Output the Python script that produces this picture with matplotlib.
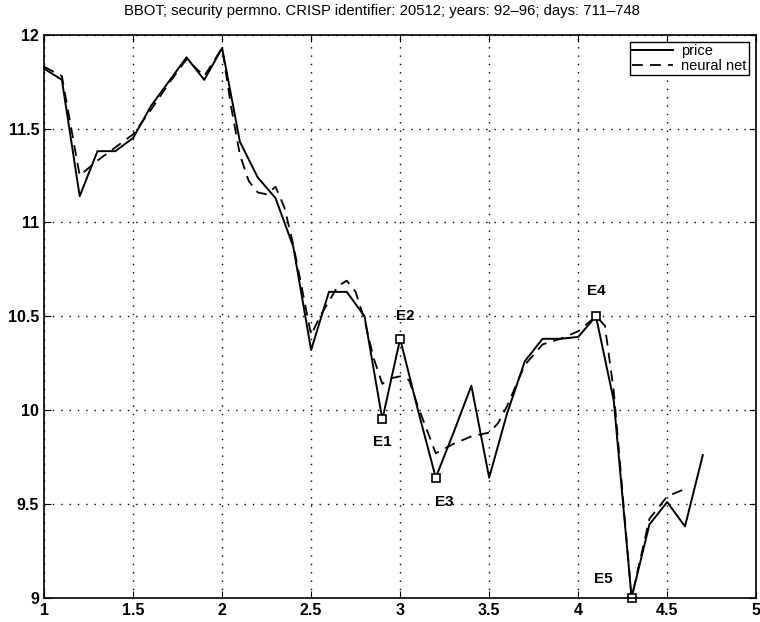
import matplotlib.pyplot as plt
import numpy as np

plt.rcParams['font.family'] = ['Liberation Sans', 'DejaVu Sans']

# daily closing price (x = trading day index / 10)
day = [1.0, 1.1, 1.2, 1.3, 1.4, 1.5, 1.6, 1.7, 1.8, 1.9,
       2.0, 2.1, 2.2, 2.3, 2.4, 2.5, 2.6, 2.7, 2.8, 2.9,
       3.0, 3.1, 3.2, 3.3, 3.4, 3.5, 3.6, 3.7, 3.8, 3.9,
       4.0, 4.1, 4.2, 4.3, 4.4, 4.5, 4.6, 4.7]
price = [11.82, 11.76, 11.14, 11.38, 11.38, 11.45, 11.62, 11.75, 11.88, 11.76,
         11.93, 11.43, 11.24, 11.13, 10.87, 10.32, 10.63, 10.63, 10.50, 9.95,
         10.38, 10.00, 9.64, 9.88, 10.13, 9.64, 9.98, 10.26, 10.38, 10.38,
         10.39, 10.50, 10.05, 9.00, 9.39, 9.51, 9.38, 9.76]

# neural net output
nn_day = [1.0, 1.1, 1.2, 1.3, 1.4, 1.5, 1.6, 1.7, 1.8, 1.9,
          2.0, 2.05, 2.1, 2.15, 2.2, 2.25, 2.3, 2.35, 2.4, 2.5,
          2.55, 2.6, 2.65, 2.7, 2.75, 2.8, 2.85, 2.9, 2.95, 3.0,
          3.05, 3.1, 3.2, 3.3, 3.4, 3.5, 3.55, 3.6, 3.7, 3.8,
          3.9, 4.0, 4.1, 4.15, 4.2, 4.25, 4.3, 4.4, 4.5, 4.6]
nn_out = [11.83, 11.78, 11.25, 11.33, 11.40, 11.47, 11.60, 11.74, 11.87, 11.78,
          11.93, 11.62, 11.36, 11.22, 11.16, 11.15, 11.19, 11.08, 10.88, 10.40,
          10.50, 10.58, 10.66, 10.69, 10.63, 10.48, 10.28, 10.14, 10.17, 10.18,
          10.16, 10.02, 9.77, 9.82, 9.86, 9.88, 9.93, 10.02, 10.24, 10.35,
          10.38, 10.42, 10.50, 10.45, 10.10, 9.55, 9.00, 9.42, 9.54, 9.58]

# marked events
ev_names = ['E1', 'E2', 'E3', 'E4', 'E5']
ev_day = [2.9, 3.0, 3.2, 4.1, 4.3]
ev_price = [9.95, 10.38, 9.64, 10.50, 9.00]
ev_text_x = [2.9, 3.03, 3.25, 4.1, 4.14]
ev_text_y = [9.83, 10.50, 9.51, 10.635, 9.10]

xticks = [1, 1.5, 2, 2.5, 3, 3.5, 4, 4.5, 5]
xtick_labels = ['1', '1.5', '2', '2.5', '3', '3.5', '4', '4.5', '5']
yticks = [9, 9.5, 10, 10.5, 11, 11.5, 12]
ytick_labels = ['9', '9.5', '10', '10.5', '11', '11.5', '12']

fig = plt.figure(figsize=(7.6, 6.22), dpi=100)
ax = fig.add_axes([0.058, 0.039, 0.937, 0.905])

ax.plot(day, price, color='k', lw=1.4, label='price')
ax.plot(nn_day, nn_out, color='k', lw=1.3, dashes=(6, 4), label='neural net')
ax.plot(ev_day, ev_price, 's', color='k', mfc='white', ms=6, mew=1.2, clip_on=False)

for name, tx, ty in zip(ev_names, ev_text_x, ev_text_y):
    ax.text(tx, ty, name, ha='center', va='center', fontsize=11, fontweight='bold')

ax.set_xlim(1, 5)
ax.set_ylim(9, 12)
ax.set_xticks(xticks)
ax.set_xticklabels(xtick_labels)
ax.set_yticks(yticks)
ax.set_yticklabels(ytick_labels)
ax.tick_params(direction='in', top=True, right=True, length=5, labelsize=11.5)
for lab in ax.get_xticklabels() + ax.get_yticklabels():
    lab.set_fontweight('bold')

ax.grid(True, color='k', linestyle=(0, (1, 5)), linewidth=1.0)
for s in ax.spines.values():
    s.set_linewidth(1.2)

ax.set_title('BBOT; security permno. CRISP identifier: 20512; years: 92\u201396; days: 711\u2013748',
             fontsize=10.7, pad=14, x=0.475)

leg = ax.legend(loc='upper right', fontsize=10.5, handlelength=2.8, fancybox=False,
                framealpha=1, edgecolor='k', borderaxespad=0.5, labelspacing=0.05,
                borderpad=0.15, handletextpad=0.6)
leg.get_frame().set_linewidth(1.0)

fig.savefig('out.png', dpi=100)
